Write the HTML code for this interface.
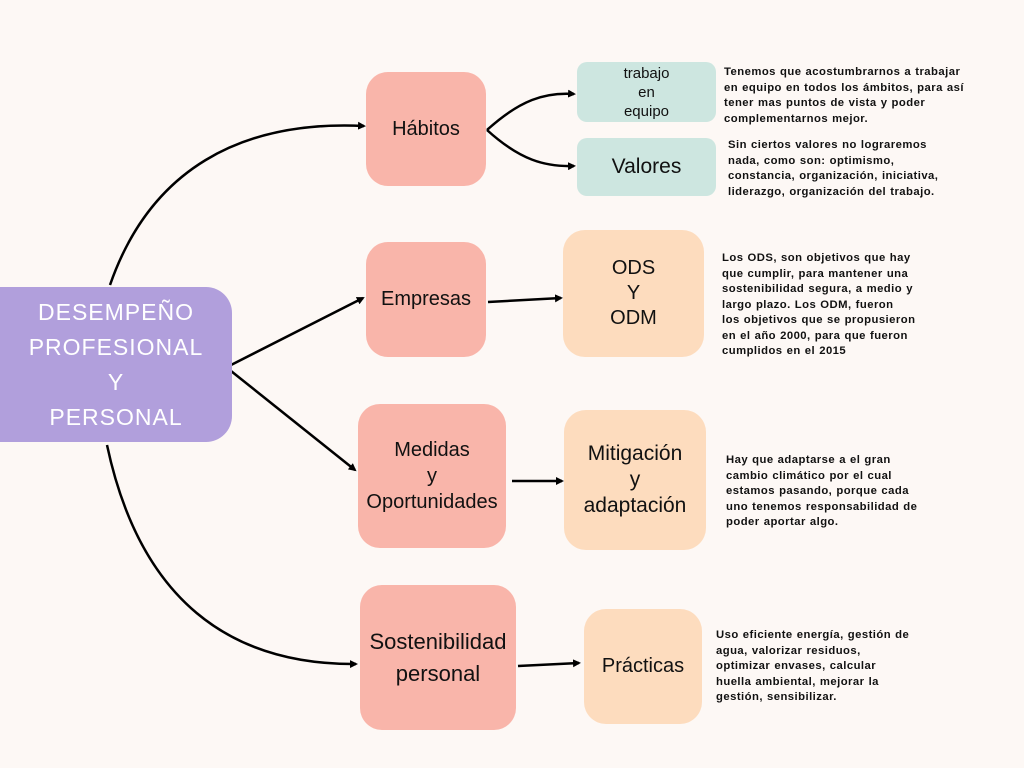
<!DOCTYPE html>
<html><head><meta charset="utf-8"><style>
body{margin:0;width:1024px;height:768px;background:#fdf8f5;position:relative;overflow:hidden;font-family:"Liberation Sans",sans-serif}
.b{position:absolute;display:flex;align-items:center;justify-content:center;text-align:center;border-radius:22px;color:#111;font-family:"Comic Sans MS","Liberation Sans",sans-serif}
.p{background:#f9b5aa}.t{background:#cde6e0}.o{background:#fddcbe}
.d{position:absolute;font-size:11.3px;font-weight:bold;line-height:15.5px;color:#111;letter-spacing:0.45px;word-spacing:0.5px}
svg{position:absolute;left:0;top:0}
</style></head><body>
<svg width="1024" height="768"><defs><marker id="a" markerWidth="8" markerHeight="8" refX="6" refY="4" orient="auto" markerUnits="userSpaceOnUse"><path d="M0,0L8,4L0,8z" fill="#000"/></marker></defs>
<g stroke="#000" stroke-width="2.5" fill="none" marker-end="url(#a)">
<path d="M110,285 C150,170 240,120 364,126"/>
<path d="M231,365 L363,298"/>
<path d="M231,371 L355,470"/>
<path d="M107,445 C140,600 230,665 356,664"/>
<path d="M487,130 C520,100 545,92 574,94"/>
<path d="M487,130 C520,160 545,167 574,166"/>
<path d="M488,302 L561,298"/>
<path d="M512,481 L562,481"/>
<path d="M518,666 L579,663"/>
</g></svg>
<div class="b" style="left:0;top:287px;width:232px;height:155px;background:#b19fdc;color:#fff;font-size:23px;line-height:35px;letter-spacing:1px;border-radius:0 26px 26px 0">DESEMPEÑO<br>PROFESIONAL<br>Y<br>PERSONAL</div>
<div class="b p" style="left:366px;top:72px;width:120px;height:114px;font-size:20px">Hábitos</div>
<div class="b p" style="left:366px;top:242px;width:120px;height:115px;font-size:20px">Empresas</div>
<div class="b p" style="left:358px;top:404px;width:148px;height:144px;font-size:20px;line-height:26px">Medidas<br>y<br>Oportunidades</div>
<div class="b p" style="left:360px;top:585px;width:156px;height:145px;font-size:22px;line-height:32px">Sostenibilidad<br>personal</div>
<div class="b t" style="left:577px;top:62px;width:139px;height:60px;font-size:15px;line-height:19px;border-radius:10px">trabajo<br>en<br>equipo</div>
<div class="b t" style="left:577px;top:138px;width:139px;height:58px;font-size:21px;border-radius:10px">Valores</div>
<div class="b o" style="left:563px;top:230px;width:141px;height:127px;font-size:20px;line-height:25px">ODS<br>Y<br>ODM</div>
<div class="b o" style="left:564px;top:410px;width:142px;height:140px;font-size:21px;line-height:26px">Mitigación<br>y<br>adaptación</div>
<div class="b o" style="left:584px;top:609px;width:118px;height:115px;font-size:20px">Prácticas</div>
<div class="d" style="left:724px;top:65px">Tenemos que acostumbrarnos a trabajar<br>en equipo en todos los ámbitos, para así<br>tener mas puntos de vista y poder<br>complementarnos mejor.</div>
<div class="d" style="left:728px;top:138px">Sin ciertos valores no lograremos<br>nada, como son: optimismo,<br>constancia, organización, iniciativa,<br>liderazgo, organización del trabajo.</div>
<div class="d" style="left:722px;top:251px">Los ODS, son objetivos que hay<br>que cumplir, para mantener una<br>sostenibilidad segura, a medio y<br>largo plazo. Los ODM, fueron<br>los objetivos que se propusieron<br>en el año 2000, para que fueron<br>cumplidos en el 2015</div>
<div class="d" style="left:726px;top:453px">Hay que adaptarse a el gran<br>cambio climático por el cual<br>estamos pasando, porque cada<br>uno tenemos responsabilidad de<br>poder aportar algo.</div>
<div class="d" style="left:716px;top:628px">Uso eficiente energía, gestión de<br>agua, valorizar residuos,<br>optimizar envases, calcular<br>huella ambiental, mejorar la<br>gestión, sensibilizar.</div>
</body></html>
